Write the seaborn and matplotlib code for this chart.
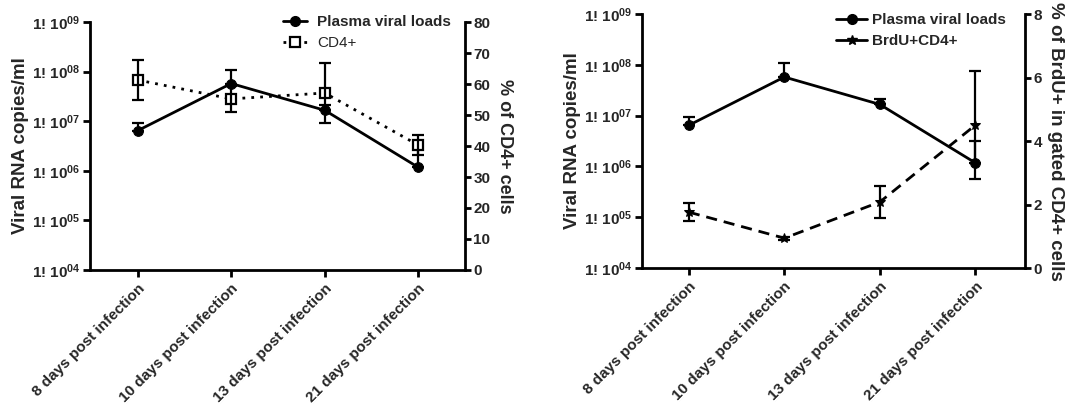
import numpy as np
import pandas as pd
import matplotlib
import matplotlib.pyplot as plt
from matplotlib.lines import Line2D
import seaborn as sns

# ---------------------------------------------------------------
# data
# ---------------------------------------------------------------
days = ["8 days post infection", "10 days post infection",
        "13 days post infection", "21 days post infection"]

# plasma viral loads, log10 copies/ml, with upper error only
viral_log = [6.81, 7.76, 7.22, 6.07]
viral_log_upper = [6.97, 8.03, 7.33, 6.50]

# % CD4+ cells (mean, sd)
cd4_pct = [61.3, 55.2, 57.1, 40.3]
cd4_sd = [6.3, 4.2, 9.7, 3.2]

# % BrdU+ in gated CD4+ (mean, sd)
brdu_pct = [1.76, 0.94, 2.08, 4.50]
brdu_sd = [0.28, 0.05, 0.50, 1.70]

ytick_exp = [4, 5, 6, 7, 8, 9]

# ---------------------------------------------------------------
sns.set_theme(style="ticks")
plt.rcParams["font.family"] = ["Liberation Sans", "DejaVu Sans"]
plt.rcParams["font.weight"] = "bold"
plt.rcParams["mathtext.fontset"] = "custom"
plt.rcParams["mathtext.rm"] = "Liberation Sans:bold"
plt.rcParams["mathtext.bf"] = "Liberation Sans:bold"
plt.rcParams["mathtext.default"] = "bf"

x = np.arange(len(days))
viral = 10 ** np.array(viral_log)
viral_up = 10 ** np.array(viral_log_upper) - viral
df = pd.DataFrame({"x": x, "viral": viral, "cd4": cd4_pct, "brdu": brdu_pct})

W, H = 1074, 404
fig = plt.figure(figsize=(W / 100, H / 100), dpi=100)
ax_l = fig.add_axes([0.0838, 0.3317, 0.3492, 0.6138])
ax_r = fig.add_axes([0.5978, 0.3366, 0.3566, 0.6287])

LW = 2.0


def style_axes(ax, ax2, xlim):
    ax.set_yscale("log")
    ax.set_ylim(1e4, 1e9)
    ax.set_xlim(*xlim)
    ax.set_yticks([10.0 ** e for e in ytick_exp])
    ax.set_yticklabels([rf"1! 10$^{{{e:02d}}}$" for e in ytick_exp])
    ax.yaxis.set_minor_locator(matplotlib.ticker.NullLocator())
    ax.set_xticks(x)
    ax.set_xticklabels(days, rotation=45, ha="right", rotation_mode="anchor",
                       fontsize=9.7, fontweight="bold")
    ax.set_xlabel("")
    ax.set_ylabel("Viral RNA copies/ml", fontsize=13.5, fontweight="bold", labelpad=2)
    for a in (ax, ax2):
        for s in a.spines.values():
            s.set_linewidth(LW)
            s.set_color("black")
        a.spines["top"].set_visible(False)
        a.tick_params(width=LW, length=5, color="black", labelsize=11, pad=2)
    ax2.tick_params(length=4)
    ax.spines["right"].set_visible(False)
    ax2.spines["left"].set_visible(False)
    ax2.spines["bottom"].set_visible(False)
    for lab in ax.get_yticklabels() + ax2.get_yticklabels():
        lab.set_fontweight("bold")
    ax.tick_params(axis="x", pad=3)


def legend_at(ax, handles, labels, xr, yt, hl, htp):
    return ax.legend(handles, labels, loc="upper right",
                     bbox_to_anchor=(xr / W, 1 - yt / H), bbox_transform=fig.transFigure,
                     frameon=False, fontsize=11, borderaxespad=0, borderpad=0,
                     handlelength=hl, handletextpad=htp, labelspacing=0.45)


# ---------------- left panel ----------------
sns.lineplot(data=df, x="x", y="viral", ax=ax_l, color="black", lw=LW,
             marker="o", markersize=7, markeredgecolor="black")
ax_l.errorbar(x, viral, yerr=[np.zeros(4), viral_up], fmt="none",
              ecolor="black", elinewidth=1.6, capsize=4, capthick=1.6)
ax_l2 = ax_l.twinx()
sns.lineplot(data=df, x="x", y="cd4", ax=ax_l2, color="black", lw=LW,
             linestyle=(0, (1, 2.2)), marker="s", markersize=7,
             markerfacecolor="white", markeredgecolor="black", markeredgewidth=1.6)
ax_l2.errorbar(x, cd4_pct, yerr=cd4_sd, fmt="none", ecolor="black",
               elinewidth=1.6, capsize=4, capthick=1.6)
ax_l2.set_ylim(0, 80)
ax_l2.set_yticks(range(0, 81, 10))
ax_l2.set_ylabel("% of CD4+ cells", rotation=270, fontsize=13,
                 fontweight="bold", labelpad=16)
style_axes(ax_l, ax_l2, (-0.51, 3.5))

h_l = [Line2D([], [], color="black", lw=LW, marker="o", markersize=7),
       Line2D([], [], color="black", lw=LW, linestyle=(0, (1, 1.5)), marker="s",
              markersize=7, markerfacecolor="white", markeredgewidth=1.6)]
leg = legend_at(ax_l2, h_l, ["Plasma viral loads", "CD4+"], 451, 15, 1.6, 0.65)
leg.get_texts()[0].set_fontweight("bold")
leg.get_texts()[1].set_fontweight("normal")

# ---------------- right panel ----------------
sns.lineplot(data=df, x="x", y="viral", ax=ax_r, color="black", lw=LW,
             marker="o", markersize=7, markeredgecolor="black")
ax_r.errorbar(x, viral, yerr=[np.zeros(4), viral_up], fmt="none",
              ecolor="black", elinewidth=1.6, capsize=4, capthick=1.6)
ax_r2 = ax_r.twinx()
sns.lineplot(data=df, x="x", y="brdu", ax=ax_r2, color="black", lw=LW,
             linestyle=(0, (4, 2.5)), marker="*", markersize=7,
             markeredgecolor="black")
ax_r2.errorbar(x, brdu_pct, yerr=brdu_sd, fmt="none", ecolor="black",
               elinewidth=1.6, capsize=4, capthick=1.6)
ax_r2.set_ylim(0, 8)
ax_r2.set_yticks(range(0, 9, 2))
ax_r2.set_ylabel("% of BrdU+ in gated CD4+ cells", rotation=270, fontsize=13.5,
                 fontweight="bold", labelpad=16)
style_axes(ax_r, ax_r2, (-0.49, 3.52))

h_r = [Line2D([], [], color="black", lw=LW, marker="o", markersize=7),
       Line2D([], [], color="black", lw=LW, marker="*", markersize=7)]
leg = legend_at(ax_r2, h_r, ["Plasma viral loads", "BrdU+CD4+"], 1006, 13, 2.0, 0.35)
for t in leg.get_texts():
    t.set_fontweight("bold")

fig.savefig("out.png", dpi=100)
